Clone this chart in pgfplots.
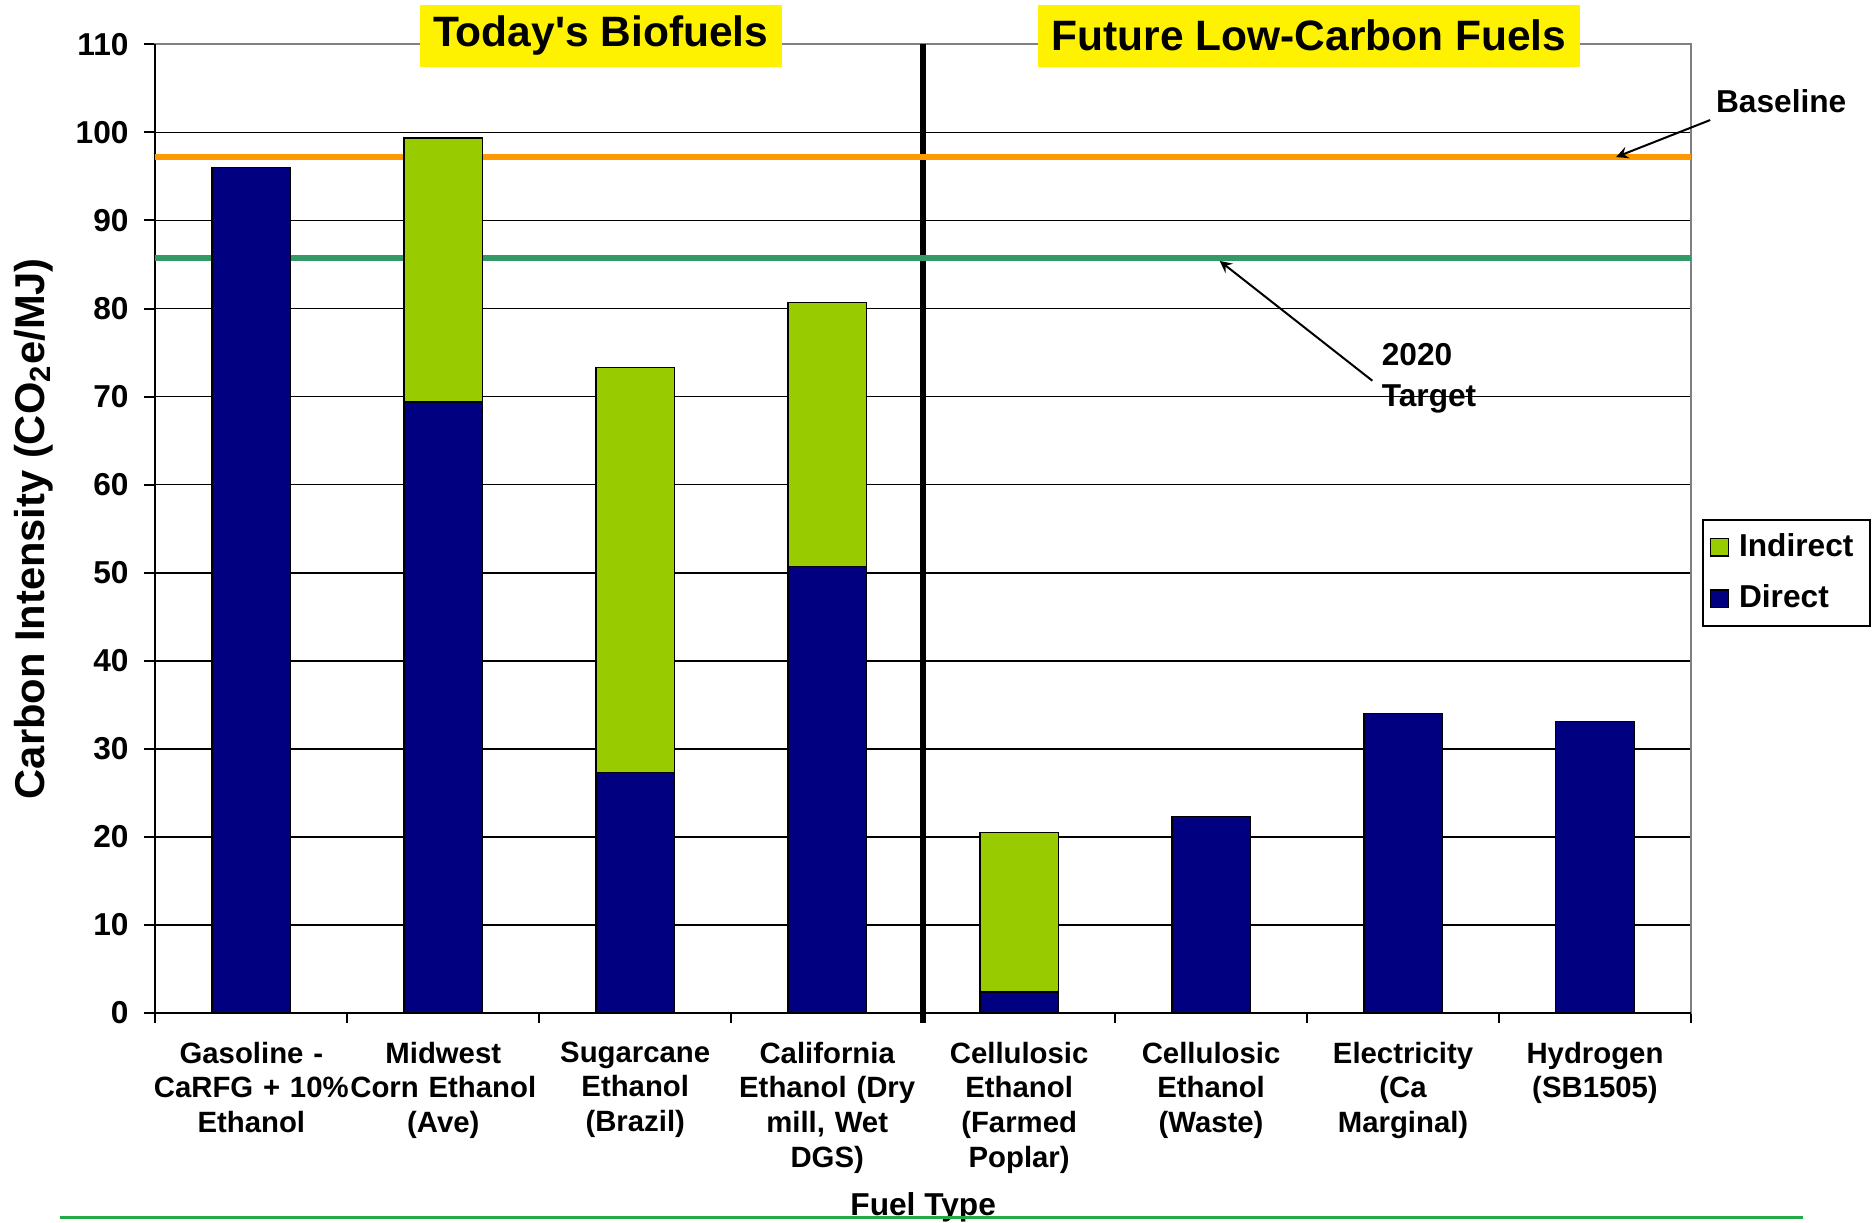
\documentclass[border=0pt]{standalone}
\usepackage{fontspec}
\setmainfont{Liberation Sans}
\usepackage{pgfplots}
\pgfplotsset{compat=1.18}

\definecolor{direct}{HTML}{000080}
\definecolor{indirect}{HTML}{99CC00}
\definecolor{baseorange}{HTML}{FF9900}
\definecolor{targetgreen}{HTML}{339966}
\definecolor{slidegreen}{HTML}{22AA44}

\begin{document}
\begin{tikzpicture}
\useasboundingbox (0,0) rectangle (562.5pt,366.9pt);
\begin{axis}[
  at={(46.6pt,63pt)}, anchor=south west,
  scale only axis,
  width=460.7pt, height=290.6pt,
  ybar stacked,
  bar width=0.41,
  xmin=-0.5, xmax=7.5,
  ymin=0, ymax=110,
  ytick={0,10,...,110},
  xtick={0,...,7},
  xticklabels={
    {Gasoline -\\CaRFG + 10\%\\Ethanol},
    {Midwest\\Corn Ethanol\\(Ave)},
    {Sugarcane\\Ethanol\\(Brazil)},
    {California\\Ethanol (Dry\\mill, Wet\\DGS)},
    {Cellulosic\\Ethanol\\(Farmed\\Poplar)},
    {Cellulosic\\Ethanol\\(Waste)},
    {Electricity\\(Ca\\Marginal)},
    {Hydrogen\\(SB1505)}},
  minor xtick={-0.5,0.5,...,7.5},
  major x tick style={draw=none},
  tick align=outside,
  tick pos=left,
  major tick length=3.5pt,
  minor tick length=3pt,
  tick style={black, line width=0.6pt},
  ymajorgrids,
  grid style={black, line width=0.5pt},
  axis line style={gray, line width=0.6pt},
  /pgf/number format/assume math mode=true,
  yticklabel style={font=\fontsize{9.5}{10}\selectfont\bfseries, xshift=-1pt},
  xticklabel style={font=\fontsize{8.8}{10.4}\selectfont\bfseries, align=center, text width=62pt, anchor=north, yshift=-1.6pt},
  xlabel={Fuel Type},
  xlabel style={font=\fontsize{9.5}{11}\selectfont\bfseries, at={(axis description cs:0.5,0)}, anchor=center, yshift=-58.3pt},
  ylabel={Carbon Intensity (CO\textsubscript{2}e/MJ)},
  ylabel style={font=\fontsize{12.5}{14}\selectfont\bfseries, at={(axis description cs:0,0.5)}, anchor=center, yshift=36.6pt},
  legend style={at={(1.0072,0.51)}, anchor=north west, draw=black, line width=0.6pt,
    font=\fontsize{9.5}{11}\selectfont\bfseries, row sep=3pt, inner sep=2pt,
    nodes={inner xsep=3pt}},
  legend cell align=left,
  reverse legend,
  legend image code/.code={\draw[#1, draw=black, line width=0.4pt] (2pt,-2.6pt) rectangle (7.4pt,2.6pt);},
  clip=false,
]
\addplot[fill=direct, draw=black, line width=0.5pt] coordinates {
  (0,96.0) (1,69.4) (2,27.3) (3,50.7) (4,2.4) (5,22.3) (6,34.0) (7,33.1)};
\addlegendentry{Direct}
\addplot[fill=indirect, draw=black, line width=0.5pt] coordinates {
  (0,0) (1,30.0) (2,46.0) (3,30.0) (4,18.1) (5,0) (6,0) (7,0)};
\addlegendentry{Indirect}
\addplot[stack plots=false, sharp plot, draw=baseorange, line width=1.8pt, forget plot] coordinates {(-0.5,97.2) (7.5,97.2)};
\addplot[stack plots=false, sharp plot, draw=targetgreen, line width=1.8pt, forget plot] coordinates {(-0.5,85.7) (7.5,85.7)};
\draw[black, line width=0.6pt] (rel axis cs:0,1) -- (rel axis cs:0,0) -- (rel axis cs:1,0);
\draw[black, line width=1.8pt] (axis cs:3.5,-1.1) -- (axis cs:3.5,110);
\coordinate (t1) at (axis cs:1.82,111.0);
\coordinate (t2) at (axis cs:5.51,111.0);
\coordinate (bl) at (axis cs:7.97,103.5);
\coordinate (bla) at (axis cs:7.6,101.4);
\coordinate (blb) at (axis cs:7.11,97.2);
\coordinate (tg) at (axis cs:5.886,72.1);
\coordinate (tga) at (axis cs:5.84,71.8);
\coordinate (tgb) at (axis cs:5.045,85.4);
\end{axis}
\node[fill=yellow, minimum height=18.6pt, inner xsep=4pt, font=\fontsize{12.75}{14}\selectfont\bfseries] at (t1) {Today\textquotesingle s Biofuels};
\node[fill=yellow, minimum height=18.6pt, inner xsep=4pt, font=\fontsize{12.75}{14}\selectfont\bfseries] at (t2) {Future Low-Carbon Fuels};
\node[font=\fontsize{9.5}{11}\selectfont\bfseries] at (bl) {Baseline};
\draw[-stealth, line width=0.6pt] (bla) -- (blb);
\node[anchor=west, inner sep=0pt, align=left, font=\fontsize{9.5}{12.2}\selectfont\bfseries] at (tg) {2020\\Target};
\draw[-stealth, line width=0.6pt] (tga) -- (tgb);
\draw[slidegreen, line width=0.9pt] (17.9pt,1.6pt) -- (541pt,1.6pt);
\end{tikzpicture}
\end{document}
